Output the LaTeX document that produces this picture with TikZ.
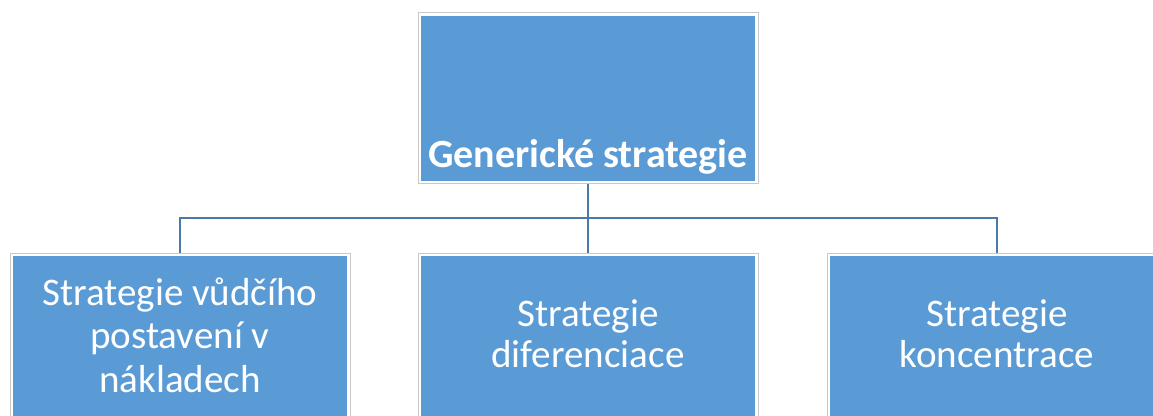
\documentclass[tikz,border=0pt]{standalone}
\usepackage{fontspec}
\setmainfont{Carlito}
\definecolor{boxblue}{RGB}{91,155,213}
\definecolor{boxgrey}{RGB}{200,200,200}
\definecolor{connblue}{RGB}{74,122,168}
\begin{document}
\begin{tikzpicture}[x=0.75pt,y=-0.75pt,
  box/.style={draw=boxgrey, line width=0.75pt, fill=white, minimum width=255pt, minimum height=128.25pt, inner sep=0pt,
    path picture={\fill[boxblue] ([shift={(1.9pt,1.9pt)}]path picture bounding box.south west) rectangle ([shift={(-1.9pt,-1.9pt)}]path picture bounding box.north east);}},
  lbl/.style={text=white, font=\fontsize{29.3pt}{33pt}\selectfont, align=center, inner sep=0pt},
  title/.style={text=white, font=\fontsize{30pt}{36pt}\selectfont\bfseries, inner sep=0pt},
  conn/.style={draw=connblue, line width=2pt}]
\useasboundingbox (0,0) rectangle (1153,416);
\clip (0,0) rectangle (1153,416);
\node[box] (top) at (588,98.5) {};
\node[box] (left) at (180,339) {};
\node[box] (mid) at (588,339) {};
\node[box] (right) at (997,339) {};
\coordinate (bus) at (588,218);
\draw[conn] (top.south) -- (mid.north);
\draw[conn] (bus) -| (left.north);
\draw[conn] (bus) -| (right.north);
\node[title, anchor=base] (ttop) at (588,168) {Generické strategie};
\node[lbl, anchor=base] (tleft) at (180,393) {Strategie vůdčího\\postavení v\\nákladech};
\node[lbl, anchor=base, font=\fontsize{29.3pt}{31pt}\selectfont] (tmid) at (588,368) {Strategie\\diferenciace};
\node[lbl, anchor=base, font=\fontsize{29.3pt}{31pt}\selectfont] (tright) at (997,368) {Strategie\\koncentrace};
\end{tikzpicture}
\end{document}
